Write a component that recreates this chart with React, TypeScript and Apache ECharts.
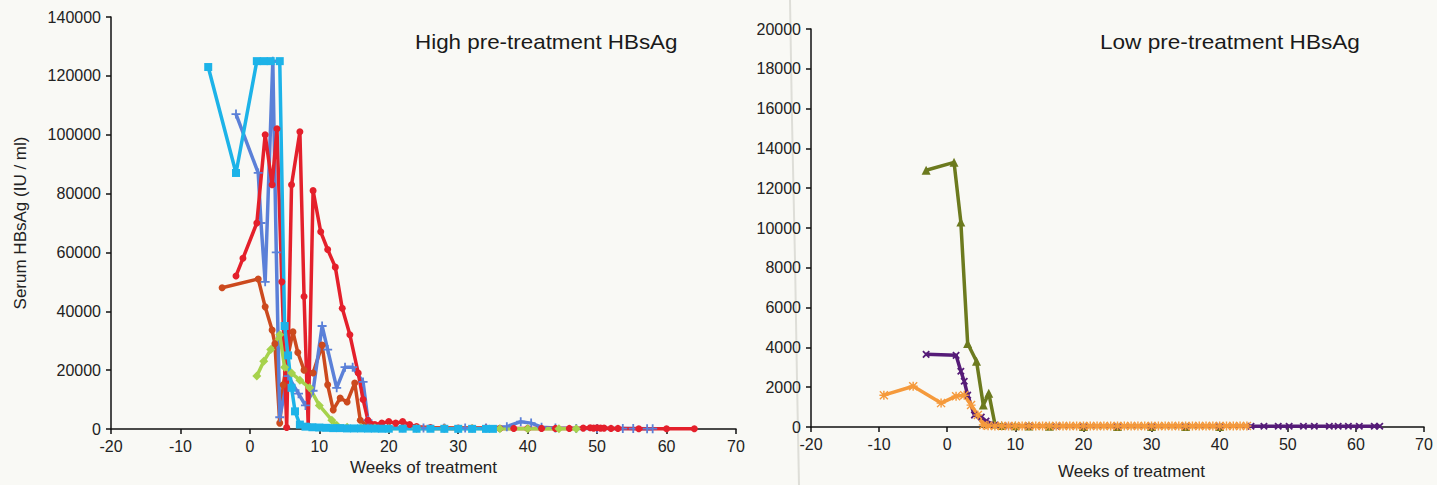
import React, { useEffect, useRef } from "react";
import * as echarts from "echarts";

// ---------- Left panel: High pre-treatment HBsAg ----------
const cyanWeeks = [-6, -2, 1, 2, 3, 4.3, 5, 5.5, 6, 6.5, 7.2, 8, 9, 10, 11, 12, 13, 14, 15, 16, 17, 18, 19, 20, 22, 24, 26, 28, 30, 32, 34, 35];
const cyanValues = [123000, 87000, 125000, 125000, 125000, 125000, 35000, 25000, 14000, 6000, 1500, 800, 600, 500, 400, 300, 300, 200, 200, 200, 150, 150, 100, 100, 100, 80, 80, 60, 60, 50, 50, 50];

const blueWeeks = [-2, 1.2, 1.6, 2.2, 3.3, 3.8, 4.3, 5.5, 7, 8, 9.1, 10.4, 11.2, 12.5, 13.7, 14.8, 16.3, 17, 18, 20, 22, 25, 28, 31, 34, 37, 39, 40.5, 42, 44, 47, 50, 53.7, 55.2, 57.2, 58];
const blueValues = [107000, 87000, 70000, 50000, 125000, 60000, 4000, 18000, 12000, 8000, 13000, 35000, 27000, 14000, 21000, 21000, 16000, 3000, 800, 500, 400, 300, 300, 300, 300, 800, 2500, 2000, 600, 300, 200, 200, 150, 150, 100, 100];

const redWeeks = [-2, -1, 1, 2.2, 3.2, 3.9, 4.6, 5.3, 6, 7.2, 7.8, 8.4, 9.1, 10.2, 11.2, 12.3, 13.3, 14.4, 15.6, 16.3, 17, 18, 19, 20, 21, 22, 23, 24, 26, 28, 30, 32, 34, 36, 38, 40, 42, 44, 46, 48, 49, 49.5, 50, 50.5, 51, 52, 53, 56, 60, 64];
const redValues = [52000, 58000, 70000, 100000, 83000, 102000, 50000, 500, 83000, 101000, 45000, 1000, 81000, 67000, 61000, 55000, 41000, 32000, 19000, 10000, 3000, 1500, 2000, 2500, 2000, 2500, 1500, 800, 500, 400, 300, 300, 300, 200, 200, 200, 200, 200, 200, 300, 400, 300, 400, 300, 300, 200, 200, 100, 100, 100];

const brickWeeks = [-4, 1.2, 2.2, 3.2, 3.6, 4.3, 4.8, 5.5, 6.2, 6.9, 7.8, 9.1, 10.4, 11.2, 12, 13, 14, 15.1, 15.9, 17, 18, 20, 22, 24, 26, 28, 30];
const brickValues = [48000, 51000, 41500, 33600, 29000, 2000, 15000, 25000, 33000, 26000, 20000, 19000, 28500, 15000, 6500, 10500, 9200, 15600, 3000, 800, 600, 400, 300, 300, 200, 200, 100];

const greenWeeks = [1, 2, 3, 4.3, 5, 6, 7.2, 8.6, 10, 11.8, 12.5, 14, 16, 18, 20, 24, 28, 32, 36, 40, 44.5, 47];
const greenValues = [18000, 23000, 27000, 32000, 21000, 19000, 16600, 14000, 8000, 3000, 1300, 600, 400, 300, 200, 200, 150, 150, 100, 100, 100, 100];

// ---------- Right panel: Low pre-treatment HBsAg ----------
const oliveWeeks = [-3.1, 1, 2, 3, 4.3, 5.3, 6.1, 7, 8, 10, 12, 15, 20, 25, 30, 35, 40];
const oliveValues = [12900, 13300, 10300, 4200, 3300, 1100, 1700, 150, 80, 60, 50, 40, 30, 30, 30, 30, 30];

const purpleWeeks = [-3.1, 1.3, 2, 2.5, 3, 4, 5, 5.7, 7, 9, 12, 16, 20, 25, 30, 35, 40, 44.6, 46.5, 48.6, 50.2, 52.3, 53.9, 56.1, 57.4, 58.9, 60.5, 62.7, 63.5];
const purpleValues = [3650, 3600, 2800, 2300, 1600, 600, 500, 300, 100, 50, 50, 40, 40, 40, 40, 40, 40, 40, 40, 40, 40, 40, 40, 40, 40, 40, 40, 40, 40];

const orangeWeeks = [-9.3, -5, -0.9, 1.3, 2.5, 3.5, 4.5, 5.3, 6, 7, 8, 9, 10, 11, 12, 13, 14, 15, 16, 17, 18, 19, 20, 21, 22, 23, 24, 25, 26, 27, 28, 29, 30, 31, 32, 33, 34, 35, 36, 37, 38, 39, 40, 41, 42, 43, 44];
const orangeValues = [1600, 2050, 1200, 1550, 1600, 1100, 600, 100, 60, 50, 50, 50, 50, 50, 50, 50, 50, 50, 50, 50, 50, 50, 50, 50, 50, 50, 50, 50, 50, 50, 50, 50, 50, 50, 50, 50, 50, 50, 50, 50, 50, 50, 50, 50, 50, 50, 50];

// Axis ticks
const xMin = -20;
const xMax = 70;
const xStep = 10;
const leftYMax = 140000;
const leftYStep = 20000;
const rightYMax = 20000;
const rightYStep = 2000;

const titles = ["High pre-treatment HBsAg", "Low pre-treatment HBsAg"];
const yName = "Serum HBsAg (IU / ml)";
const xName = "Weeks of treatment";

const PLUS = "path://M4,0h2v4h4v2h-4v4h-2v-4h-4v-2h4z";
const ASTER =
  "path://M4.2,0h1.6v10h-1.6z M0,4.2h10v1.6h-10z M1.1,0L10,8.9L8.9,10L0,1.1z M8.9,0L10,1.1L1.1,10L0,8.9z";

const zip = (w: number[], v: number[]) => w.map((x, i) => [x, v[i]]);

function mkSeries(
  name: string,
  w: number[],
  v: number[],
  color: string,
  symbol: string,
  axis: number,
  extra: any = {}
) {
  return {
    name,
    type: "line",
    xAxisIndex: axis,
    yAxisIndex: axis,
    data: zip(w, v),
    symbol,
    symbolSize: 7,
    showSymbol: true,
    lineStyle: { color, width: 3.5 },
    itemStyle: { color },
    clip: false,
    ...extra,
  };
}

export default function App() {
  const ref = useRef<HTMLDivElement>(null);
  useEffect(() => {
    if (!ref.current) return;
    const chart = echarts.init(ref.current, undefined, { renderer: "svg" });
    const font = "Arial, 'Liberation Sans', sans-serif";
    const axisLine = { show: true, onZero: false, lineStyle: { color: "#111", width: 1.5 } };
    const axisTick = { show: true, length: 5, lineStyle: { color: "#111", width: 1.5 } };
    const label = {
      color: "#222",
      fontSize: 16,
      fontFamily: font,
      formatter: (v: number) => String(v),
    };
    const xAxisBase = {
      type: "value",
      min: xMin,
      max: xMax,
      interval: xStep,
      axisLine,
      axisTick,
      splitLine: { show: false },
      axisLabel: { ...label, margin: 9 },
      name: xName,
      nameLocation: "middle",
      nameTextStyle: { color: "#222", fontSize: 17, fontFamily: font },
    };
    const option: any = {
      animation: false,
      backgroundColor: "#f9f9f5",
      grid: [
        { left: 111, top: 17, width: 625, height: 412 },
        { left: 811, top: 29, width: 613, height: 400 },
      ],
      xAxis: [
        { ...xAxisBase, gridIndex: 0, nameGap: 27 },
        {
          ...xAxisBase,
          gridIndex: 1,
          nameGap: 36,
          nameTextStyle: { ...xAxisBase.nameTextStyle, padding: [0, 0, 0, 28] },
        },
      ],
      yAxis: [
        {
          type: "value",
          gridIndex: 0,
          min: 0,
          max: leftYMax,
          interval: leftYStep,
          axisLine,
          axisTick,
          splitLine: { show: false },
          axisLabel: { ...label, margin: 10 },
          name: yName,
          nameLocation: "middle",
          nameGap: 82,
          nameTextStyle: { color: "#222", fontSize: 17, fontFamily: font },
        },
        {
          type: "value",
          gridIndex: 1,
          min: 0,
          max: rightYMax,
          interval: rightYStep,
          axisLine,
          axisTick,
          splitLine: { show: false },
          axisLabel: { ...label, margin: 10 },
        },
      ],
      graphic: [
        {
          type: "polyline",
          silent: true,
          z: -1,
          shape: {
            points: [
              [790, 0],
              [792, 120],
              [795, 260],
              [797, 380],
              [799, 485],
            ],
          },
          style: { stroke: "#deded8", lineWidth: 2, fill: null },
        },
        {
          type: "text",
          x: 415,
          y: 32,
          scaleX: 1.12,
          style: { text: titles[0], fontSize: 20, fontFamily: font, fill: "#1a1a1a" },
        },
        {
          type: "text",
          x: 1100,
          y: 32,
          scaleX: 1.13,
          style: { text: titles[1], fontSize: 20, fontFamily: font, fill: "#1a1a1a" },
        },
      ],
      series: [
        mkSeries("Patient B", brickWeeks, brickValues, "#cc4a1e", "circle", 0),
        mkSeries("Patient C", blueWeeks, blueValues, "#5b80d8", PLUS, 0, { symbolSize: 9 }),
        mkSeries("Patient A", redWeeks, redValues, "#e4202b", "circle", 0),
        mkSeries("Patient D", greenWeeks, greenValues, "#a6d24c", "diamond", 0, { symbolSize: 9 }),
        mkSeries("Patient E", cyanWeeks, cyanValues, "#1db3e8", "rect", 0, { symbolSize: 8 }),
        mkSeries("Patient F", oliveWeeks, oliveValues, "#6c7a1e", "triangle", 1, { symbolSize: 9 }),
        mkSeries("Patient G", purpleWeeks, purpleValues, "#561c78", PLUS, 1, { symbolSize: 9, symbolRotate: 45 }),
        mkSeries("Patient H", orangeWeeks, orangeValues, "#f59a3c", ASTER, 1, { symbolSize: 9 }),
      ],
    };
    chart.setOption(option);
    return () => chart.dispose();
  }, []);
  return (
    <div
      ref={ref}
      style={{ position: "fixed", left: 0, top: 0, width: 1437, height: 485 }}
    />
  );
}
